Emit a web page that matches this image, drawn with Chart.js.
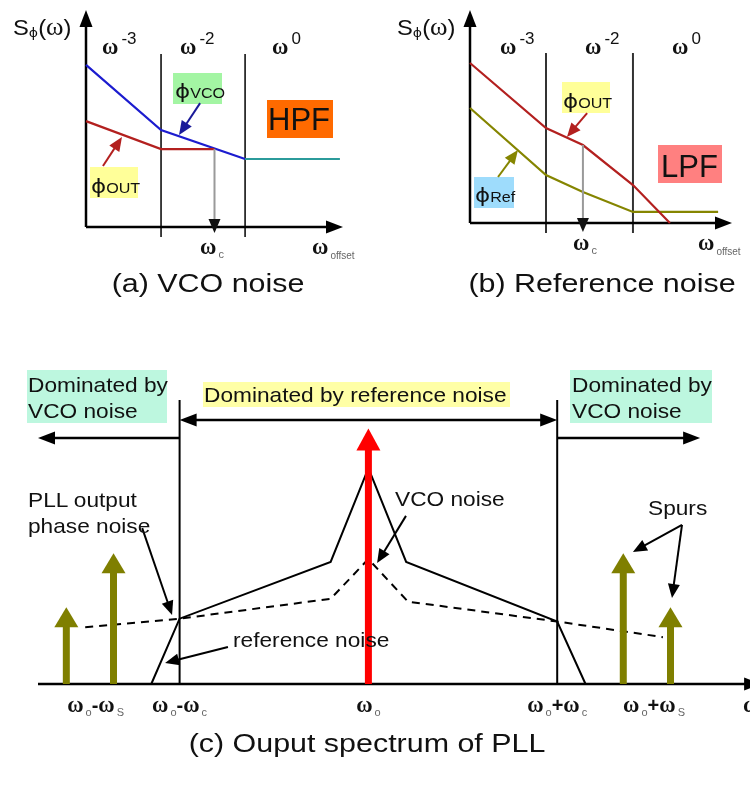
<!DOCTYPE html>
<html>
<head>
<meta charset="utf-8">
<title>PLL phase noise</title>
<script src="https://cdn.jsdelivr.net/npm/chart.js@4.4.1/dist/chart.umd.min.js"></script>
<style>
  html, body { margin: 0; padding: 0; background: #fff; }
  #page { position: relative; width: 750px; height: 789px; overflow: hidden; }
  canvas { position: absolute; z-index: 1; }
  .box { position: absolute; z-index: 0; }
  .t { position: absolute; z-index: 2; white-space: nowrap; line-height: 1; color: #111;
       font-family: 'Liberation Sans', Arial, sans-serif; transform-origin: 0 0; }
  .w { font-family: 'Liberation Serif', 'Times New Roman', serif; font-size: 1.12em; font-weight: bold; }
  .ph { font-family: 'DejaVu Sans', sans-serif; }
  .sb { font-size: 11px; color: #666; position: relative; top: 4px; margin-left: 2px;
        font-family: 'Liberation Sans', Arial, sans-serif; }
  .sp { font-size: 17px; position: relative; top: -10px; margin-left: 3px; }
</style>
</head>
<body>
<div id="page">
  <canvas id="chartA" width="370" height="300" style="left:0;top:0"></canvas>
  <canvas id="chartB" width="380" height="300" style="left:370px;top:0"></canvas>
  <canvas id="chartC" width="750" height="449" style="left:0;top:340px"></canvas>
</div>
<script>
// ==========================================
// data
// ==========================================

// (a) VCO noise - offset freq 0..10, noise level 0..10
const vcoFreq = [0, 2.92, 6.19];
const vcoLevel = [7.47, 4.47, 3.13];
const floorFreqA = [6.19, 9.88];
const floorLevelA = [3.13, 3.13];
const outFreqA = [0, 2.92, 5.0];
const outLevelA = [4.88, 3.59, 3.59];
const cornersA = [2.92, 6.19];
const dividerSpanA = [-0.46, 7.97];
const wcA = 5.0;

// (b) Reference noise
const outFreqB = [0, 2.9, 4.31, 6.22, 7.63];
const outLevelB = [7.51, 4.46, 3.66, 1.78, 0];
const refFreqB = [0, 2.9, 4.31, 6.22, 9.47];
const refLevelB = [5.4, 2.25, 1.46, 0.52, 0.52];
const cornersB = [2.9, 6.22];
const dividerSpanB = [-0.47, 7.98];
const wcB = 4.31;

// (c) Output spectrum - x is offset from w0 in units of wc
const pllOffset = [-1.15, -1.0, -0.2, 0, 0.2, 1.0, 1.15];
const pllLevel = [0, 23, 43, 76, 43, 22, 0];
const vcoOffset = [-1.5, -1.0, -0.2, 0, 0.21, 1.0, 1.56];
const vcoNoise = [20, 23, 30, 44, 29, 22, 16.5];
const carrierLevel = 90;
const spurOffset = [-1.6, -1.35, 1.35, 1.6];
const spurLevel = [27, 46, 46, 27];
const loopEdges = [-1, 1];
const tickValues = [-1.445, -1.0, 0, 1.0, 1.513];
const tickLabels = ['ωo-ωS', 'ωo-ωc', 'ωo', 'ωo+ωc', 'ωo+ωS'];

// callout pointers [from, to] in each panel's data units
const ptrVcoA = [[4.44, 5.71], [3.62, 4.24]];
const ptrOutA = [[0.66, 2.81], [1.40, 4.15]];
const ptrOutB = [[4.47, 5.16], [3.70, 4.04]];
const ptrRefB = [[1.07, 2.16], [1.83, 3.43]];
const ptrPll = [[-1.198, 54.9], [-1.04, 24.3]];
const ptrVcoC = [[0.199, 59.2], [0.046, 42.6]];
const ptrRefC = [[-0.744, 13.0], [-1.077, 7.4]];
const ptrSpur1 = [[1.661, 56], [1.401, 46.5]];
const ptrSpur2 = [[1.661, 56], [1.608, 30.3]];

// ==========================================
// helpers
// ==========================================
const BLUE = '#1c1ccf', TEAL = '#2b9b9b', DRED = '#b3201f', OLIVE = '#858500';

function seg(xs, ys, color, width, extra) {
    return Object.assign({
        type: 'scatter',
        showLine: true,
        data: xs.map((x, i) => ({ x, y: ys[i] })),
        borderColor: color,
        backgroundColor: color,
        borderWidth: width,
        pointRadius: 0,
        clip: false,
        fill: false
    }, extra || {});
}

function ptr(p, color, width) {
    return seg([p[0][0], p[1][0]], [p[0][1], p[1][1]], color, width || 2, arrow(14, 12));
}

function arrow(len, w, color, both) {
    return { head: { len, w, color, end: true, start: !!both } };
}

// pull the line end back a bit, then paint a triangle at the real tip
function pull(from, pt, ds) {
    const a = Math.atan2(pt.y - from.y, pt.x - from.x);
    const tip = { pt, x: pt.x, y: pt.y, a };
    const back = ds.head.len * 0.7;
    pt.x -= Math.cos(a) * back;
    pt.y -= Math.sin(a) * back;
    return tip;
}

const arrowHeads = {
    id: 'arrowHeads',
    beforeDatasetDraw(chart, args) {
        const ds = chart.data.datasets[args.index];
        if (!ds.head) return;
        const pts = args.meta.data, n = pts.length;
        ds._tips = [];
        if (ds.head.end) ds._tips.push(pull(pts[n - 2], pts[n - 1], ds));
        if (ds.head.start) ds._tips.push(pull(pts[1], pts[0], ds));
    },
    afterDatasetDraw(chart, args) {
        const ds = chart.data.datasets[args.index];
        if (!ds._tips) return;
        const ctx = chart.ctx;
        ds._tips.forEach(t => {
            t.pt.x = t.x;
            t.pt.y = t.y;
            ctx.save();
            ctx.translate(t.x, t.y);
            ctx.rotate(t.a);
            ctx.beginPath();
            ctx.moveTo(0, 0);
            ctx.lineTo(-ds.head.len, ds.head.w / 2);
            ctx.lineTo(-ds.head.len, -ds.head.w / 2);
            ctx.closePath();
            ctx.fillStyle = ds.head.color || ds.borderColor;
            ctx.fill();
            ctx.restore();
        });
        ds._tips = null;
    }
};

function options(pad, xr, yr) {
    return {
        responsive: false,
        animation: false,
        events: [],
        layout: { padding: pad },
        plugins: { legend: { display: false }, tooltip: { enabled: false } },
        scales: {
            x: { type: 'linear', display: false, min: xr[0], max: xr[1] },
            y: { type: 'linear', display: false, min: yr[0], max: yr[1] }
        },
        elements: { line: { tension: 0 } }
    };
}

// chart.js paints dataset 0 last, so the lists below are in paint order and get reversed
function makeChart(id, layers, opts) {
    return new Chart(document.getElementById(id), {
        type: 'scatter',
        data: { datasets: layers.slice().reverse() },
        options: opts,
        plugins: [arrowHeads]
    });
}

// ==========================================
// (a) VCO noise
// ==========================================
makeChart('chartA', [
    seg([cornersA[0], cornersA[0]], dividerSpanA, '#111', 1.6),
    seg([cornersA[1], cornersA[1]], dividerSpanA, '#111', 1.6),
    seg([0, 0], [0, 10], '#000', 2.5, arrow(17, 13)),
    seg([0, 10], [0, 0], '#000', 2.5, arrow(17, 13)),
    seg(vcoFreq, vcoLevel, BLUE, 2.2),
    seg(floorFreqA, floorLevelA, TEAL, 2),
    seg(outFreqA, outLevelA, DRED, 2.2),
    seg([wcA, wcA], [outLevelA[2], -0.28], '#9a9a9a', 2, arrow(14, 12, '#111')),
    ptr(ptrVcoA, '#1a1a99'),
    ptr(ptrOutA, DRED)
], options({ left: 86, right: 27, top: 10, bottom: 73 }, [0, 10], [0, 10]));

// ==========================================
// (b) Reference noise
// ==========================================
makeChart('chartB', [
    seg([cornersB[0], cornersB[0]], dividerSpanB, '#333', 2),
    seg([cornersB[1], cornersB[1]], dividerSpanB, '#333', 2),
    seg([0, 0], [0, 10], '#000', 2.5, arrow(17, 13)),
    seg([0, 10], [0, 0], '#000', 2.5, arrow(17, 13)),
    seg(refFreqB, refLevelB, OLIVE, 2.2),
    seg(outFreqB, outLevelB, DRED, 2.2),
    seg([wcB, wcB], [outLevelB[2], -0.42], '#9a9a9a', 2, arrow(14, 12, '#111')),
    ptr(ptrOutB, DRED),
    ptr(ptrRefB, OLIVE)
], options({ left: 100, right: 18, top: 10, bottom: 77 }, [0, 10], [0, 10]));

// ==========================================
// (c) Output spectrum of PLL
// ==========================================
const layersC = [
    seg([loopEdges[0], loopEdges[0]], [0, 100], '#000', 2),
    seg([loopEdges[1], loopEdges[1]], [0, 100], '#000', 2),
    seg([-1.75, 2.08], [0, 0], '#000', 2.5, arrow(17, 13)),
    seg(loopEdges, [93, 93], '#000', 2.5, arrow(17, 13, null, true)),
    seg([loopEdges[0], -1.75], [86.6, 86.6], '#000', 2.5, arrow(17, 13)),
    seg([loopEdges[1], 1.757], [86.6, 86.6], '#000', 2.5, arrow(17, 13)),
    seg(vcoOffset, vcoNoise, '#000', 2, { borderDash: [8, 6] }),
    seg(pllOffset, pllLevel, '#000', 2)
];
spurOffset.forEach((x, i) => {
    layersC.push(seg([x, x], [0, spurLevel[i]], '#7f7f00', 7, arrow(20, 24)));
});
layersC.push(seg([0, 0], [0, carrierLevel], '#ff0000', 7, arrow(22, 24)));
[ptrPll, ptrVcoC, ptrRefC, ptrSpur1, ptrSpur2].forEach(p => layersC.push(ptr(p, '#000')));

const chartC = makeChart('chartC', layersC,
    options({ left: 38, right: 4, top: 60, bottom: 105 }, [-1.75, 2.0], [0, 100]));

// ==========================================
// text and tinted boxes
// ==========================================
const page = document.getElementById('page');

function addBox(x, y, w, h, color) {
    const el = document.createElement('div');
    el.className = 'box';
    el.style.cssText = `left:${x}px;top:${y}px;width:${w}px;height:${h}px;background:${color}`;
    page.appendChild(el);
}

function addText(o) {
    const el = document.createElement('div');
    el.className = 't';
    el.innerHTML = o.html;
    el.style.fontSize = o.size + 'px';
    el.style.top = o.y + 'px';
    if (o.lh) el.style.lineHeight = o.lh + 'px';
    const s = o.scale || 1;
    if (o.cx !== undefined) {
        el.style.left = o.cx + 'px';
        el.style.transformOrigin = '50% 0';
        el.style.transform = `translateX(-50%) scaleX(${s})`;
    } else {
        el.style.left = o.x + 'px';
        el.style.transform = `scaleX(${s})`;
    }
    page.appendChild(el);
}

const om = sub => `<span class="w">ω</span>` + (sub ? `<span class="sb">${sub}</span>` : '');
const pow = p => `<span class="w">ω</span><span class="sp">${p}</span>`;
const fmt = s => s.replace(/ω([A-Za-z0-9])/g, (m, c) => om(c))
                  .replace(/([-+])/g, '<b>$1</b>');
const spd = `S<span class="ph" style="font-size:13px;position:relative;top:2px">ϕ</span>(<span class="w" style="font-weight:normal">ω</span>)`;
const phi = name => `<span class="ph" style="font-size:20px">ϕ</span>${name}`;

addBox(173, 73, 49, 31, '#a3f5a3');
addBox(267, 100, 66, 38, '#ff6a00');
addBox(90, 167, 48, 31, '#ffff99');
addBox(562, 82, 48, 31, '#ffff99');
addBox(658, 145, 64, 38, '#ff8080');
addBox(474, 177, 40, 31, '#9edcfc');
addBox(27, 370, 140, 53, '#bdf7df');
addBox(570, 370, 142, 53, '#bdf7df');
addBox(203, 382, 307, 25, '#ffffa6');

const offsetSub = `<span class="w">ω</span><span class="sb" style="font-size:10px;top:5px">offset</span>`;

[
    // (a)
    { html: spd, x: 13, y: 15, size: 22, scale: 1.08 },
    { html: pow('-3'), x: 102, y: 36, size: 20 },
    { html: pow('-2'), x: 180, y: 36, size: 20 },
    { html: pow('0'), x: 272, y: 36, size: 20 },
    { html: om('c'), x: 200, y: 236, size: 20 },
    { html: offsetSub, x: 312, y: 236, size: 20 },
    { html: phi('VCO'), x: 175, y: 81, size: 14, scale: 1.15 },
    { html: 'HPF', x: 268, y: 104, size: 31 },
    { html: phi('OUT'), x: 91, y: 176, size: 14, scale: 1.15 },
    { html: '(a) VCO noise', cx: 208, y: 270, size: 26, scale: 1.17 },
    // (b)
    { html: spd, x: 397, y: 15, size: 22, scale: 1.08 },
    { html: pow('-3'), x: 500, y: 36, size: 20 },
    { html: pow('-2'), x: 585, y: 36, size: 20 },
    { html: pow('0'), x: 672, y: 36, size: 20 },
    { html: om('c'), x: 573, y: 232, size: 20 },
    { html: offsetSub, x: 698, y: 232, size: 20 },
    { html: phi('OUT'), x: 563, y: 91, size: 14, scale: 1.15 },
    { html: 'LPF', x: 661, y: 151, size: 31 },
    { html: phi('Ref'), x: 475, y: 185, size: 14, scale: 1.15 },
    { html: '(b) Reference noise', cx: 602, y: 270, size: 26, scale: 1.17 },
    // (c)
    { html: 'Dominated by<br>VCO noise', x: 28, y: 372, size: 21, lh: 26, scale: 1.08 },
    { html: 'Dominated by<br>VCO noise', x: 572, y: 372, size: 21, lh: 26, scale: 1.08 },
    { html: 'Dominated by reference noise', x: 204, y: 384, size: 21, scale: 1.08 },
    { html: 'PLL output<br>phase noise', x: 28, y: 487, size: 21, lh: 26, scale: 1.08 },
    { html: 'VCO noise', x: 395, y: 488, size: 21, scale: 1.08 },
    { html: 'reference noise', x: 233, y: 629, size: 21, scale: 1.08 },
    { html: 'Spurs', x: 648, y: 497, size: 21, scale: 1.08 },
    { html: om(''), x: 743, y: 694, size: 20 },
    { html: '(c) Ouput spectrum of PLL', cx: 367, y: 730, size: 26, scale: 1.17 }
].forEach(addText);

// tick labels under the spectrum, placed through the chart's x scale
const sx = chartC.scales.x;
tickValues.forEach((v, i) => {
    addText({ html: fmt(tickLabels[i]), cx: sx.getPixelForValue(v), y: 694, size: 20 });
});
</script>
</body>
</html>
